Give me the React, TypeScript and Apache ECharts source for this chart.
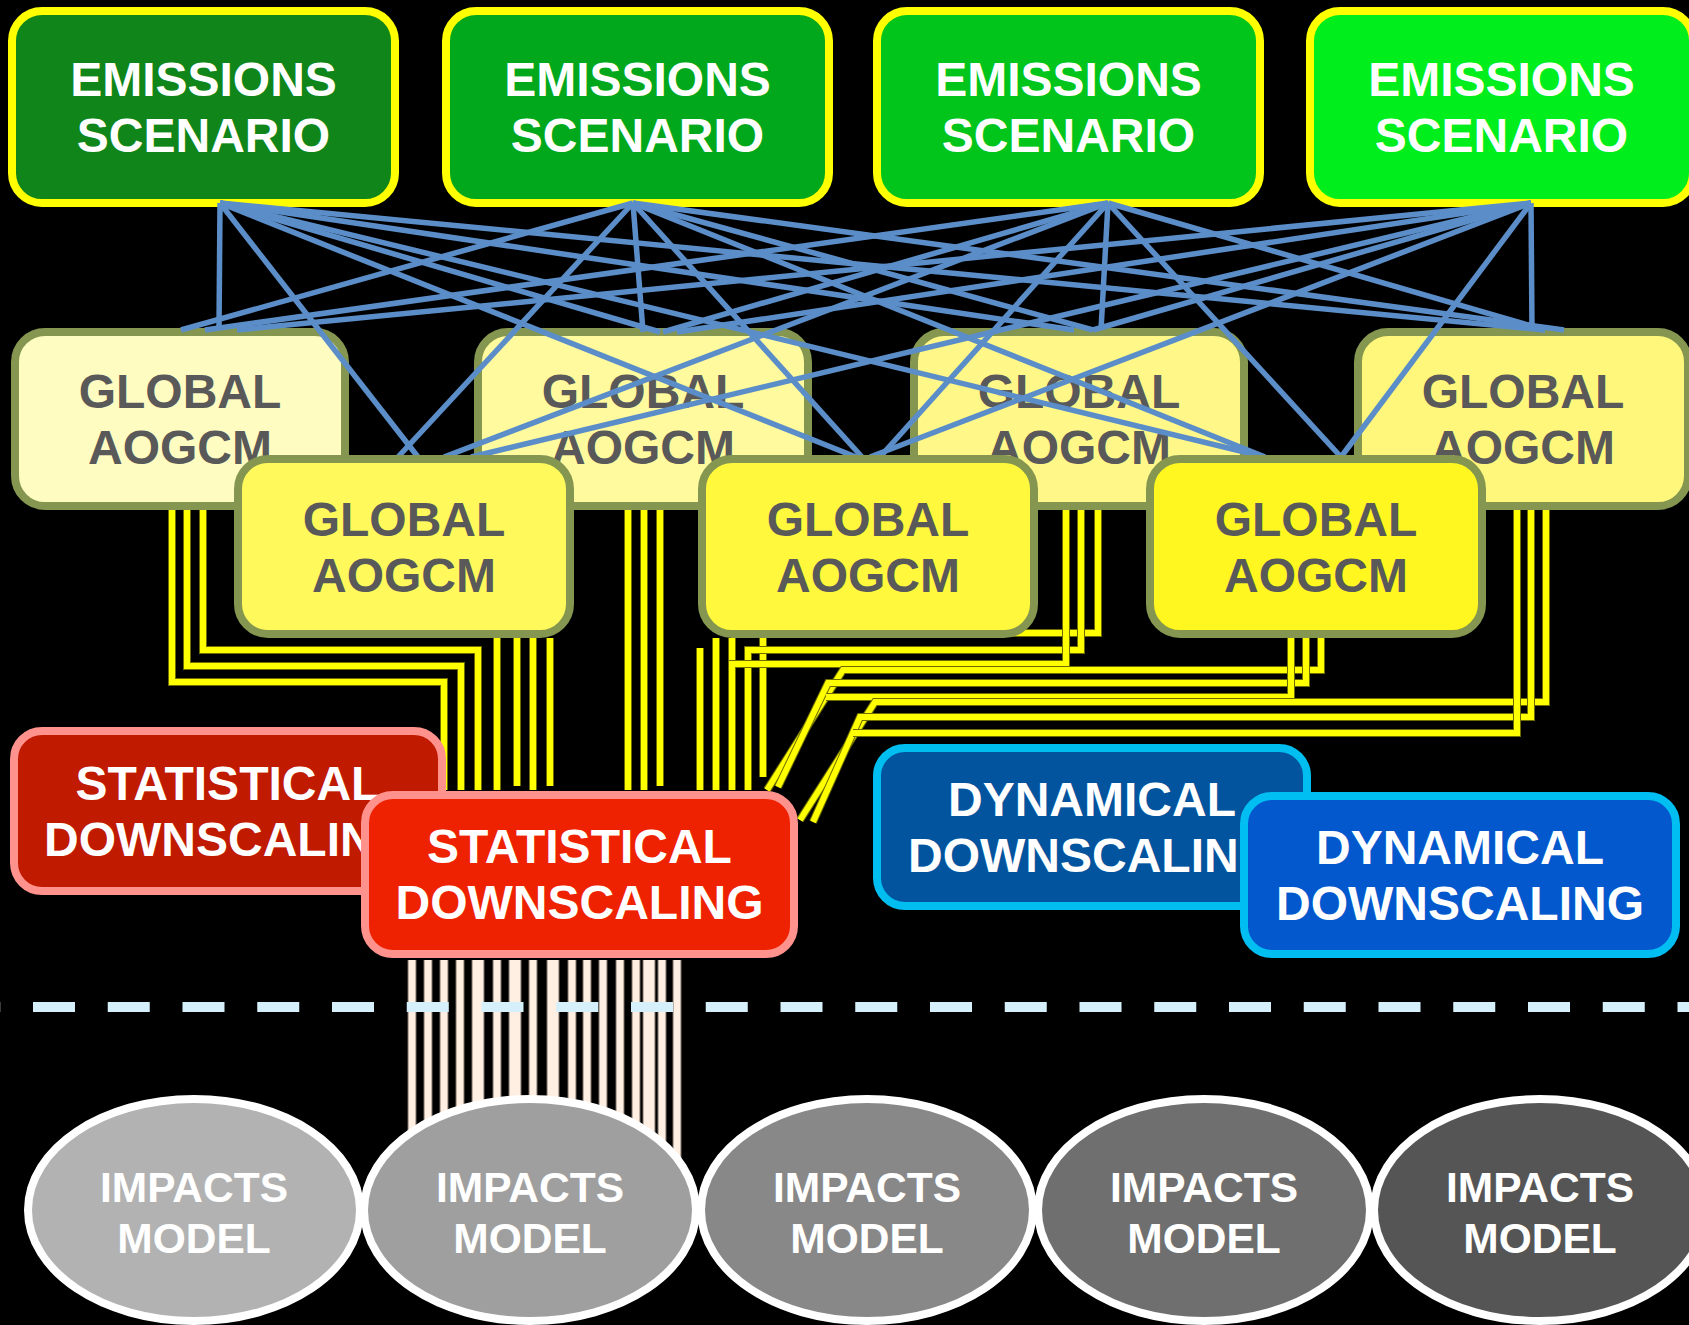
import React, { useEffect, useRef } from "react";
import * as echarts from "echarts";

const W = 1689;
const H = 1325;
const FONT = '"Liberation Sans", Arial, Helvetica, sans-serif';

// ---- labels ----
const emissionLabel = ["EMISSIONS", "SCENARIO"];
const gcmLabel = ["GLOBAL", "AOGCM"];
const statLabel = ["STATISTICAL", "DOWNSCALING"];
const dynLabel = ["DYNAMICAL", "DOWNSCALING"];
const impactLabel = ["IMPACTS", "MODEL"];

// ---- fills ----
const emissionFills = ["#0F851A", "#02A81C", "#01C51B", "#00EE1C"];
const gcmBackFills = ["#FFFCC2", "#FFFA9E", "#FFF889", "#FFF77B"];
const gcmFrontFills = ["#FFF95C", "#FFF83C", "#FFF71F"];
const statFills = ["#C01A00", "#EE2200"];
const dynFills = ["#03549E", "#0258CC"];
const impactFills = ["#B2B2B2", "#9F9F9F", "#888888", "#6F6F6F", "#555555"];

// ---- layout (left edges / anchors) ----
const emissionX = [8, 442, 873, 1306];
const gcmBackX = [11, 474, 910, 1354];
const gcmFrontX = [234, 698, 1146];
const impactCX = [194, 530, 867, 1204, 1540];

// blue link origins (bottom of each emissions box) and targets (tops of GCM boxes)
const emissionAnchors = [
  [220, 203],
  [633, 203],
  [1108, 203],
  [1531, 203],
];
const blueTargets = [
  [[219, 330], [418, 457], [660, 332], [856, 457], [1074, 330], [1265, 457], [1545, 330]],
  [[181, 330], [398, 457], [643, 332], [862, 457], [1093, 330], [1265, 457], [1564, 330]],
  [[205, 330], [444, 457], [663, 332], [880, 457], [1101, 330], [1341, 457], [1545, 330]],
  [[237, 330], [471, 457], [677, 332], [870, 457], [1093, 330], [1341, 457], [1532, 330]],
];

// yellow connectors from GCMs to statistical downscaling
const yellowPaths = [
  [[203, 510], [203, 650], [478, 650], [478, 790]],
  [[187, 510], [187, 666], [461, 666], [461, 790]],
  [[172, 510], [172, 682], [444, 682], [444, 790]],
  [[497, 638], [497, 790]],
  [[517, 638], [517, 786]],
  [[533, 638], [533, 790]],
  [[550, 638], [550, 786]],
  [[628, 510], [628, 790]],
  [[644, 510], [644, 790]],
  [[660, 510], [660, 786]],
  [[700, 648], [700, 790]],
  [[716, 638], [716, 790]],
  [[732, 638], [732, 790]],
  [[1098, 510], [1098, 633], [763, 633], [763, 777]],
  [[1081, 510], [1081, 650], [748, 650], [748, 790]],
  [[1066, 510], [1066, 664], [732, 664], [732, 790]],
  [[1321, 638], [1321, 670], [843, 670], [767, 790]],
  [[1306, 638], [1306, 683], [828, 683], [778, 787]],
  [[1291, 638], [1291, 697], [826, 697]],
  [[1546, 510], [1546, 702], [875, 702], [800, 820]],
  [[1531, 510], [1531, 717], [860, 717], [813, 822]],
  [[1517, 510], [1517, 733], [853, 733]],
];

// peach connectors from statistical downscaling to impacts model
const peachX = [412, 428, 444, 460, 478, 497, 515, 533, 553, 572, 587, 603, 620, 636, 649, 662, 677];
const peachWide = [0, 0, 0, 0, 1, 0, 1, 0, 1, 0, 0, 0, 0, 0, 1, 0, 0];

function box(
  x0: number, y0: number, w: number, h: number,
  fill: string, stroke: string, lw: number, r: number,
  lines: string[], textColor: string, fontSize: number, dy = 0
): any[] {
  const cx = x0 + w / 2;
  const cy = y0 + h / 2 + dy;
  return [
    {
      type: "rect",
      shape: { x: x0 + lw / 2, y: y0 + lw / 2, width: w - lw, height: h - lw, r },
      style: { fill, stroke, lineWidth: lw },
    },
    ...lines.map((t, i) => ({
      type: "text",
      x: cx,
      y: cy + (i === 0 ? -28 : 28),
      style: {
        text: t,
        fill: textColor,
        fontSize,
        fontWeight: "bold",
        fontFamily: FONT,
        textAlign: "center",
        textVerticalAlign: "middle",
        verticalAlign: "middle",
      },
    })),
  ];
}

export default function App() {
  const ref = useRef<HTMLDivElement>(null);
  useEffect(() => {
    document.body.style.margin = "0";
    document.body.style.background = "#000";
    const chart = echarts.init(ref.current!, null, { renderer: "svg" });
    const g: any[] = [];

    // emissions boxes
    emissionX.forEach((x, i) =>
      g.push(...box(x, 7, 391, 200, emissionFills[i], "#FFFF00", 8, 30, emissionLabel, "#FFFFFF", 48))
    );
    // back GCMs
    gcmBackX.forEach((x, i) =>
      g.push(...box(x, 328, 338, 182, gcmBackFills[i], "#84964F", 8, 30, gcmLabel, "#595959", 48))
    );
    // blue links
    emissionAnchors.forEach((o, i) =>
      blueTargets[i].forEach((t) =>
        g.push({
          type: "line",
          shape: { x1: o[0], y1: o[1], x2: t[0], y2: t[1] },
          style: { stroke: "#5B8EC8", lineWidth: 5.5, lineCap: "butt" },
        })
      )
    );
    // yellow connectors
    yellowPaths.forEach((p) => {
      g.push({
        type: "polyline",
        shape: { points: p },
        style: { stroke: "#6E6E00", lineWidth: 8, fill: null, lineJoin: "miter", lineCap: "butt" },
      });
      g.push({
        type: "polyline",
        shape: { points: p },
        style: { stroke: "#FFFF00", lineWidth: 6, fill: null, lineJoin: "miter", lineCap: "butt" },
      });
    });
    // front GCMs
    gcmFrontX.forEach((x, i) =>
      g.push(...box(x, 455, 340, 183, gcmFrontFills[i], "#84964F", 8, 30, gcmLabel, "#595959", 48, 1))
    );
    // downscaling boxes
    g.push(...box(10, 727, 436, 168, statFills[0], "#FF928C", 8, 28, statLabel, "#FFFFFF", 48));
    g.push(...box(361, 791, 437, 167, statFills[1], "#FF928C", 8, 28, statLabel, "#FFFFFF", 48));
    g.push(...box(873, 744, 438, 166, dynFills[0], "#00BEF0", 8, 28, dynLabel, "#FFFFFF", 48));
    g.push(...box(1240, 792, 440, 166, dynFills[1], "#00BEF2", 8, 28, dynLabel, "#FFFFFF", 48));

    // peach connectors
    peachX.forEach((x, i) => {
      const w = peachWide[i] ? 11 : 7;
      g.push({
        type: "line",
        shape: { x1: x, y1: 960, x2: x, y2: 1230 },
        style: { stroke: "#7A6E66", lineWidth: w + 2, lineCap: "butt" },
      });
      g.push({
        type: "line",
        shape: { x1: x, y1: 960, x2: x, y2: 1230 },
        style: { stroke: "#FFEEE2", lineWidth: w, lineCap: "butt" },
      });
    });

    // dashed divider
    g.push({
      type: "line",
      shape: { x1: -41.75, y1: 1007, x2: W + 60, y2: 1007 },
      style: { stroke: "#D5EFFB", lineWidth: 10, lineDash: [42, 32.75], lineCap: "butt" },
    });

    // impacts ellipses
    impactCX.forEach((cx, i) => {
      g.push({
        type: "ellipse",
        shape: { cx, cy: 1210, rx: 166, ry: 111 },
        style: { fill: impactFills[i], stroke: "#FFFFFF", lineWidth: 8 },
      });
    });
    impactCX.forEach((cx) => {
      impactLabel.forEach((t, j) =>
        g.push({
          type: "text",
          x: cx,
          y: j === 0 ? 1187 : 1238,
          style: {
            text: t,
            fill: "#FFFFFF",
            fontSize: 42.5,
            fontWeight: "bold",
            fontFamily: FONT,
            textAlign: "center",
            textVerticalAlign: "middle",
            verticalAlign: "middle",
          },
        })
      );
    });

    chart.setOption({
      backgroundColor: "#000000",
      animation: false,
      graphic: { elements: g },
    });
    return () => chart.dispose();
  }, []);
  return (
    <div
      ref={ref}
      style={{ width: W, height: H, overflow: "hidden", background: "#000" }}
    />
  );
}
